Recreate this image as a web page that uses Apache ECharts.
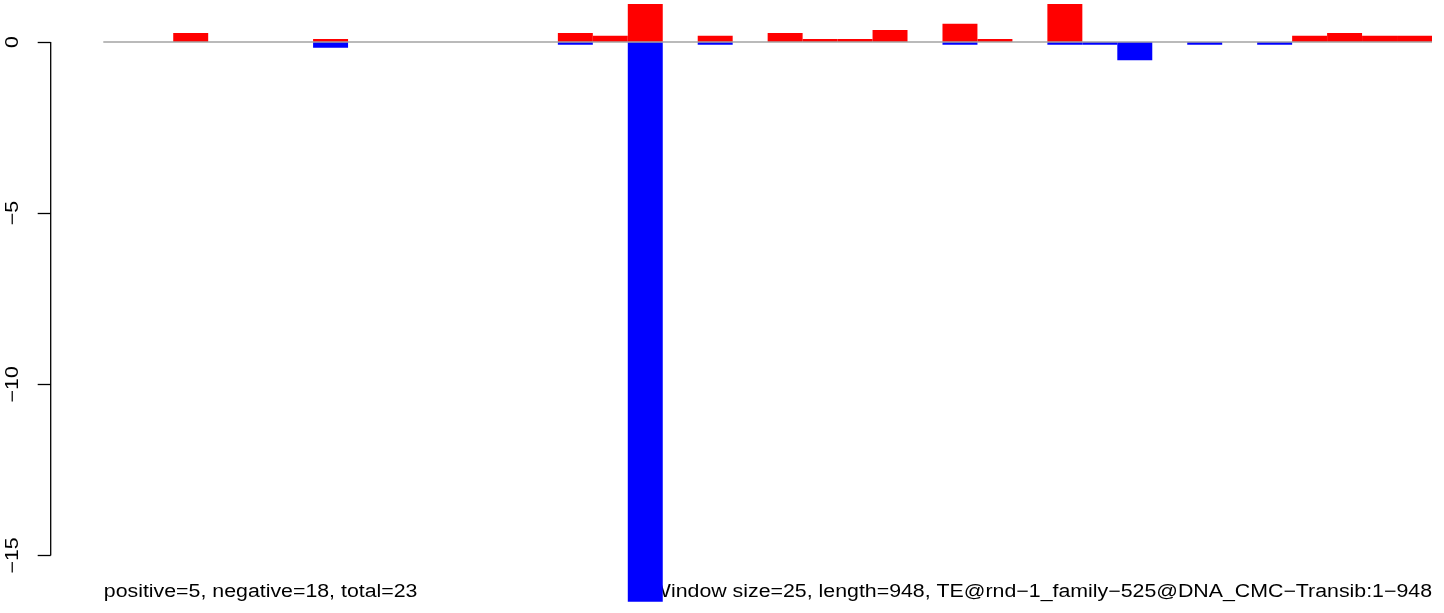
<!DOCTYPE html>
<html style="height: 100%">
<head>
    <meta charset="utf-8">
    <script type="text/javascript" src="https://cdn.jsdelivr.net/npm/echarts@6/dist/echarts.min.js"></script>
</head>
<body style="height: 100%; margin: 0; background: #fff">
    <div id="barChart" style="height: 613px; width: 1444px;"></div>

    <script type="text/javascript">
        // 38 windows of 25 bp
        var windows = [];
        for (var i = 1; i <= 38; i++) windows.push(String(i));

        // positive strand scores (red), null = empty window
        var posValues = [null, null, 0.26, null, null, null, 0.09, null, null, null,
                         null, null, null, 0.26, 0.18, 1.11, null, 0.18, null, 0.26,
                         0.09, 0.09, 0.35, null, 0.53, 0.09, null, 1.11, null, null,
                         null, null, null, null, 0.18, 0.26, 0.18, 0.18];
        // negative strand scores (blue)
        var negValues = [null, null, null, null, null, null, -0.17, null, null, null,
                         null, null, null, -0.08, null, -16.35, null, -0.08, null, null,
                         null, null, null, null, -0.08, null, null, -0.08, -0.08, -0.53,
                         null, -0.08, null, -0.08, null, null, null, null];

        var yTicks = [0, -5, -10, -15];
        var yMin = -16.35, yMax = 1.11;

        var leftText = 'positive=5, negative=18, total=23';
        var rightText = 'Window size=25, length=948, TE@rnd\u22121_family\u2212525@DNA_CMC\u2212Transib:1\u2212948';

        var chartDom = document.getElementById('barChart');
        var barChart = echarts.init(chartDom);
        var font = '"Liberation Sans", Arial, Helvetica, sans-serif';
        var gridLeft = 103.3, gridRight = 12;
        var axisOffset = 52.6;
        var fontPx = 18;
        var stretch = 1.185;   // R's glyphs are wider than Liberation Sans at the same height

        var option = {
            animation: false,
            backgroundColor: '#ffffff',
            textStyle: { fontFamily: font },
            grid: { left: gridLeft, right: gridRight, top: 4, bottom: 11.3, containLabel: false },
            xAxis: {
                type: 'category',
                data: windows,
                show: false
            },
            yAxis: {
                type: 'value',
                min: yMin,
                max: yMax,
                offset: axisOffset,
                splitLine: { show: false },
                axisLine: { show: false },
                axisTick: {
                    show: true,
                    length: 13,
                    customValues: yTicks,
                    lineStyle: { color: '#000', width: 1.3 }
                },
                axisLabel: { show: false }
            },
            series: [
                {
                    name: 'positive',
                    type: 'bar',
                    data: posValues,
                    barWidth: '100%',
                    barGap: '-100%',
                    barCategoryGap: 0,
                    itemStyle: { color: '#ff0000' },
                    markLine: {
                        silent: true,
                        symbol: 'none',
                        label: { show: false },
                        lineStyle: { color: '#a3a3a3', type: 'solid', width: 1.6 },
                        data: [{ yAxis: 0 }],
                        z: 10
                    }
                },
                {
                    name: 'negative',
                    type: 'bar',
                    data: negValues,
                    barWidth: '100%',
                    barGap: '-100%',
                    itemStyle: { color: '#0000ff' }
                }
            ]
        };

        barChart.setOption(option);

        // axis line between first and last tick only, plus rotated tick labels
        var axisX = gridLeft - axisOffset;
        var yTop = barChart.convertToPixel({ yAxisIndex: 0 }, yTicks[0]);
        var yBot = barChart.convertToPixel({ yAxisIndex: 0 }, yTicks[yTicks.length - 1]);
        var graphics = [{
            type: 'line',
            silent: true,
            shape: { x1: axisX, y1: yTop, x2: axisX, y2: yBot },
            style: { stroke: '#000', lineWidth: 1.3 }
        }];
        yTicks.forEach(function (v) {
            graphics.push({
                type: 'text',
                silent: true,
                x: 13,
                y: barChart.convertToPixel({ yAxisIndex: 0 }, v),
                rotation: Math.PI / 2,
                scaleX: stretch,
                style: {
                    text: String(v).replace('-', '\u2212'),
                    font: fontPx + 'px ' + font,
                    fill: '#000',
                    align: 'center',
                    verticalAlign: 'middle'
                }
            });
        });
        graphics.push({
            type: 'text', silent: true, x: gridLeft + 0.5, y: 592.5, scaleX: stretch,
            style: { text: leftText, font: fontPx + 'px ' + font, fill: '#000', align: 'left', verticalAlign: 'middle' }
        });
        graphics.push({
            type: 'text', silent: true, x: 1444 - gridRight, y: 592.5, scaleX: stretch,
            style: { text: rightText, font: fontPx + 'px ' + font, fill: '#000', align: 'right', verticalAlign: 'middle' }
        });
        barChart.setOption({ graphic: graphics });
    </script>
</body>
</html>
